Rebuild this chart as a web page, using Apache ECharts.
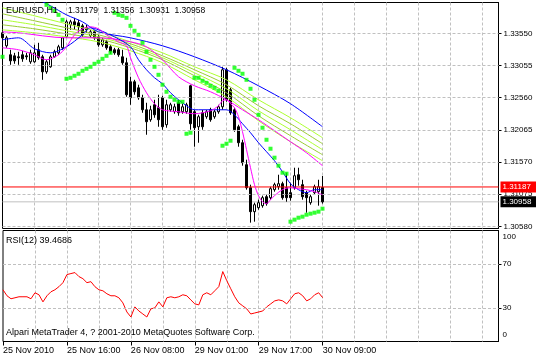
<!DOCTYPE html>
<html><head><meta charset="utf-8">
<script src="https://cdn.jsdelivr.net/npm/echarts@6/dist/echarts.min.js"></script>
<style>html,body{margin:0;padding:0;background:#fff;}#c{width:536px;height:359px;}</style>
</head><body><div id="c"></div>
<script>
// ---------------- data ----------------
const symbolName = 'EURUSD,H1';
const timeLabels = ['25 Nov 2010', '25 Nov 16:00', '26 Nov 08:00', '29 Nov 01:00', '29 Nov 17:00', '30 Nov 09:00'];
const timeLabelIdx = [0, 16, 32, 48, 64, 80];

const open = [1.33558,1.33358,1.33220,1.33204,1.33189,1.33220,1.33204,1.33112,1.33112,1.33297,
1.33189,1.32958,1.33035,1.33189,1.33250,1.33327,1.33496,1.33681,1.33727,1.33711,
1.33665,1.33635,1.33512,1.33573,1.33496,1.33373,1.33419,1.33343,1.33297,1.33297,
1.33189,1.33097,1.32805,1.32805,1.32712,1.32559,1.32374,1.32221,1.32451,1.32405,
1.32559,1.32144,1.32374,1.32344,1.32482,1.32344,1.32344,1.32743,1.32344,1.32113,
1.32328,1.32267,1.32374,1.32267,1.32344,1.32420,1.32989,1.32682,1.32374,1.32113,
1.31867,1.31529,1.31175,1.30807,1.30868,1.30899,1.31037,1.31022,1.31145,1.31191,
1.31237,1.31175,1.31099,1.31175,1.31375,1.31222,1.31099,1.30945,1.31099,1.31114,
1.31179];
const close = [1.33481,1.33481,1.33127,1.33127,1.33174,1.33158,1.33189,1.33250,1.33250,1.33174,
1.32958,1.33112,1.33189,1.33266,1.33343,1.33481,1.33727,1.33727,1.33681,1.33650,
1.33527,1.33604,1.33573,1.33481,1.33373,1.33450,1.33327,1.33266,1.33250,1.33220,
1.33097,1.32605,1.32559,1.32651,1.32559,1.32374,1.32190,1.32374,1.32297,1.32221,
1.32113,1.32451,1.32451,1.32420,1.32328,1.32420,1.32451,1.32159,1.32098,1.32267,
1.32113,1.32344,1.32221,1.32344,1.32420,1.32989,1.32528,1.32328,1.32067,1.31867,
1.31560,1.31175,1.30807,1.30914,1.30945,1.31022,1.30930,1.31160,1.31222,1.31237,
1.31022,1.31022,1.31022,1.31360,1.31298,1.31037,1.31022,1.31037,1.31191,1.31191,
1.30958];
const low = [1.33343,1.33327,1.33066,1.33081,1.33066,1.33112,1.33143,1.33081,1.33097,1.33143,
1.32835,1.32928,1.33020,1.33174,1.33220,1.33297,1.33481,1.33604,1.33604,1.33558,
1.33496,1.33558,1.33481,1.33450,1.33343,1.33343,1.33297,1.33235,1.33220,1.33189,
1.33066,1.32574,1.32451,1.32605,1.32528,1.32328,1.31990,1.32190,1.32251,1.32113,
1.32067,1.32098,1.32344,1.32313,1.32282,1.32313,1.32313,1.32067,1.31806,1.31867,
1.32067,1.32236,1.32190,1.32236,1.32313,1.32374,1.32497,1.32297,1.32036,1.31806,
1.31514,1.31145,1.30638,1.30653,1.30837,1.30868,1.30899,1.30991,1.31114,1.31145,
1.30991,1.30960,1.30976,1.31145,1.31206,1.30991,1.30791,1.30914,1.31068,1.30899,
1.30931];
const high = [1.33589,1.33512,1.33297,1.33250,1.33266,1.33281,1.33250,1.33297,1.33373,1.33404,
1.33220,1.33143,1.33220,1.33297,1.33373,1.33496,1.33758,1.33758,1.33788,1.33758,
1.33696,1.33681,1.33604,1.33604,1.33527,1.33481,1.33450,1.33373,1.33327,1.33327,
1.33297,1.33174,1.32882,1.32835,1.32759,1.32605,1.32482,1.32436,1.32528,1.32605,
1.32590,1.32528,1.32482,1.32467,1.32528,1.32467,1.32482,1.32759,1.32374,1.32297,
1.32374,1.32374,1.32405,1.32374,1.32451,1.33035,1.33020,1.32712,1.32405,1.32144,
1.31913,1.31606,1.31222,1.30945,1.30991,1.31053,1.31068,1.31191,1.31252,1.31375,
1.31268,1.31406,1.31252,1.31483,1.31483,1.31298,1.31129,1.31068,1.31222,1.31298,
1.31356];

const priceTicks = [1.30580, 1.31075, 1.31570, 1.32065, 1.32560, 1.33055, 1.33550];
const priceMin = 1.30548;
const priceMax = 1.34024;
const redLevel = 1.31187;
const bidLevel = 1.30958;

// indicator lines: [bar index, price]
const maMagentaFast = [[0,1.33327],[4,1.33297],[8,1.33220],[11,1.33143],[14,1.33220],[16,1.33343],[18,1.33527],[20,1.33619],[22,1.33650],[24,1.33619],[26,1.33527],[29,1.33419],[31,1.33358],[32,1.33174],[34,1.32866],[36,1.32636],[38,1.32467],[40,1.32374],[44,1.32344],[48,1.32313],[52,1.32359],[54,1.32436],[55,1.32513],[56,1.32528],[57,1.32467],[58,1.32405],[59,1.32267],[60,1.32036],[61,1.31760],[62,1.31483],[63,1.31222],[64,1.31053],[65,1.30960],[66,1.30930],[67,1.30991],[68,1.31053],[70,1.31145],[72,1.31175],[74,1.31160],[76,1.31145],[78,1.31114],[80,1.31068]];
const maMagentaSlow = [[0,1.33573],[4,1.33558],[16,1.33481],[24,1.33481],[32,1.33419],[36,1.33343],[40,1.33143],[44,1.32882],[48,1.32743],[52,1.32651],[56,1.32528],[60,1.32374],[64,1.32221],[68,1.32052],[72,1.31882],[76,1.31713],[80,1.31514]];
const maBlueFast = [[0,1.33450],[4,1.33481],[8,1.33312],[12,1.33250],[16,1.33343],[20,1.33527],[22,1.33635],[24,1.33604],[28,1.33496],[32,1.33343],[34,1.33143],[36,1.32989],[38,1.32866],[40,1.32774],[42,1.32636],[44,1.32528],[46,1.32436],[48,1.32374],[52,1.32374],[56,1.32374],[58,1.32297],[60,1.32159],[62,1.32021],[64,1.31867],[66,1.31729],[68,1.31590],[70,1.31421],[72,1.31237],[74,1.31145],[76,1.31099],[78,1.31145],[80,1.31145]];
const maBlueSlow = [[0,1.34296],[8,1.34096],[12,1.33973],[16,1.33834],[20,1.33727],[24,1.33573],[32,1.33481],[40,1.33358],[48,1.33189],[56,1.32989],[64,1.32743],[72,1.32467],[80,1.32113]];

const ribbonIdx = [0, 8, 16, 24, 32, 40, 48, 56, 64, 72, 80];
const ribbon1 = [1.33942,1.33819,1.33696,1.33573,1.33419,1.33250,1.33035,1.32835,1.32528,1.32251,1.31944];
const ribbon2 = [1.33850,1.33742,1.33635,1.33527,1.33389,1.33204,1.32989,1.32759,1.32436,1.32159,1.31852];
const ribbon3 = [1.33758,1.33681,1.33589,1.33496,1.33358,1.33174,1.32943,1.32697,1.32359,1.32067,1.31760];
const ribbon4 = [1.33681,1.33619,1.33542,1.33466,1.33327,1.33143,1.32897,1.32636,1.32282,1.31975,1.31683];
const ribbon5 = [1.33604,1.33558,1.33496,1.33419,1.33281,1.33097,1.32835,1.32574,1.32205,1.31882,1.31590];

const parabolicSar = [[0,1.33189],
[11,1.33988],[12,1.33942],[13,1.33896],[14,1.33834],[15,1.33758],
[16,1.32851],[17,1.32866],[18,1.32897],[19,1.32928],[20,1.32974],[21,1.33004],[22,1.33035],[23,1.33081],[24,1.33112],[25,1.33158],[26,1.33204],[27,1.33250],
[28,1.33865],[29,1.33834],[30,1.33819],[31,1.33788],[32,1.33665],[33,1.33589],[34,1.33527],[35,1.33404],[36,1.33266],[37,1.33143],[38,1.33035],[39,1.32912],[40,1.32759],[41,1.32651],[42,1.32574],[43,1.32528],[44,1.32497],[45,1.32497],
[46,1.32005],[47,1.32021],
[48,1.32866],[49,1.32866],[50,1.32820],[51,1.32789],[52,1.32743],[53,1.32712],[54,1.32666],
[55,1.31821],[56,1.31852],[57,1.31898],
[58,1.33020],[59,1.32974],[60,1.32928],[61,1.32835],[62,1.32697],[63,1.32528],[64,1.32297],[65,1.32098],[66,1.31913],[67,1.31775],[68,1.31637],[69,1.31514],[70,1.31406],[71,1.31391],
[72,1.30653],[73,1.30684],[74,1.30714],[75,1.30730],[76,1.30760],[77,1.30776],[78,1.30791],[79,1.30807],[80,1.30853]];

const rsiPeriod = 12;
const rsi = [46.6,41.2,38.5,39.4,40.3,40.3,40.3,38.5,43.9,42.1,
35.7,41.2,44.8,46.6,49.4,53.0,60.3,61.2,62.1,58.5,
56.6,53.0,53.9,49.4,46.6,45.7,43.0,41.2,41.2,39.4,
34.8,26.6,22.1,31.2,27.5,24.8,22.1,29.4,30.3,35.7,
31.2,39.4,40.3,39.4,40.3,42.1,41.2,37.5,33.9,33.0,
42.1,43.9,42.1,45.7,49.4,63.0,54.8,47.5,40.3,34.8,
32.1,29.4,24.8,25.7,26.6,27.5,31.2,33.9,36.6,37.5,
36.6,33.9,38.5,43.0,43.9,41.2,36.6,38.5,42.1,43.9,
39.4686];
const rsiTicks = [0, 30, 70, 100];
const rsiLevels = [30, 70];
const footerText = 'Alpari MetaTrader 4, ? 2001-2010 MetaQuotes Software Corp.';

// ---------------- chart ----------------
const FONT = '"Liberation Sans", Arial, sans-serif';
const nCats = 125;
const cats = Array.from({length: nCats}, (_, i) => 'b' + i);
const labelAt = {};
timeLabelIdx.forEach((k, j) => { labelAt[k] = timeLabels[j]; });
const hasLabel = (i) => labelAt[i] !== undefined;
const gridLine = {color: '#c0c0c0', type: [3, 2], width: 1};
const vGrid = {show: true, interval: (i) => i > 0 && i % 8 === 0, lineStyle: gridLine};

const last = open.length - 1;
const fmt = (v) => Number(v).toFixed(5);

function lineS(data, color) {
  return {type: 'line', xAxisIndex: 0, yAxisIndex: 0, data: data, showSymbol: false, smooth: 0.3,
    lineStyle: {color: color, width: 1}, itemStyle: {color: color}, clip: true, z: 3, silent: true};
}
const ribbonColors = ['#adff2f', '#9acd32', '#adff2f', '#9acd32', '#adff2f'];
const ribbons = [ribbon1, ribbon2, ribbon3, ribbon4, ribbon5].map((r, k) =>
  lineS(ribbonIdx.map((ix, j) => [ix, r[j]]), ribbonColors[k]));

// horizontal level line across the whole chart, with a price box at the right end
function levelLine(level, lineColor, bg, z) {
  return {type: 'line', xAxisIndex: 0, yAxisIndex: 0, z: z, silent: true,
    data: [[0, level], [nCats - 1, level]], showSymbol: false, symbol: 'none',
    lineStyle: {color: lineColor, width: 1, type: 'solid'}, itemStyle: {color: lineColor},
    emphasis: {disabled: true},
    endLabel: {show: true, distance: 2, formatter: () => fmt(level), color: '#fff',
      backgroundColor: bg, padding: [1, 8, 1, 2], fontSize: 8, lineHeight: 9, fontFamily: FONT}};
}

const chart = echarts.init(document.getElementById('c'), null, {renderer: 'canvas'});
chart.setOption({
  animation: false,
  backgroundColor: '#fff',
  grid: [
    {left: 2.5, top: 2.5, width: 496, height: 226, show: true, borderColor: '#000', borderWidth: 1},
    {left: 2.5, top: 230.5, width: 496, height: 111, show: true, borderColor: '#000', borderWidth: 1}
  ],
  xAxis: [
    {type: 'category', gridIndex: 0, data: cats, boundaryGap: false,
      axisLine: {show: false}, axisTick: {show: false}, axisLabel: {show: false}, splitLine: vGrid},
    {type: 'category', gridIndex: 1, data: cats, boundaryGap: false,
      axisLine: {show: false},
      axisTick: {show: true, interval: (i) => hasLabel(i), length: 4, lineStyle: {color: '#000'}},
      axisLabel: {show: true, interval: (i) => hasLabel(i), formatter: (v, i) => labelAt[i] || '',
        align: 'left', margin: 5, fontSize: 9, color: '#000', fontFamily: FONT},
      splitLine: vGrid}
  ],
  yAxis: [
    {type: 'value', gridIndex: 0, position: 'right', min: priceMin, max: priceMax,
      axisLine: {show: true, lineStyle: {color: '#000'}},
      axisTick: {show: true, customValues: priceTicks, length: 3, lineStyle: {color: '#000'}},
      axisLabel: {show: true, customValues: priceTicks, formatter: fmt, fontSize: 8, color: '#000', margin: 5, fontFamily: FONT},
      splitLine: {show: false}},
    {type: 'value', gridIndex: 1, position: 'right', min: 0, max: 100,
      axisLine: {show: true, lineStyle: {color: '#000'}},
      axisTick: {show: true, customValues: rsiLevels, length: 3, lineStyle: {color: '#000'}},
      axisLabel: {show: true, customValues: rsiTicks, margin: 4, fontSize: 8, color: '#000', fontFamily: FONT,
        formatter: (v) => v === 100 ? '{t|100}' : (v === 0 ? '{b|0}' : String(v)),
        rich: {t: {padding: [12, 0, 0, 0], fontSize: 8, fontFamily: FONT, color: '#000'},
               b: {padding: [0, 0, 13, 0], fontSize: 8, fontFamily: FONT, color: '#000'}}},
      splitLine: {show: false}}
  ],
  series: [
    {type: 'line', xAxisIndex: 0, yAxisIndex: 0, data: [], z: 1, silent: true,
      markLine: {silent: true, symbol: 'none', animation: false, precision: 5, label: {show: false}, lineStyle: gridLine,
        emphasis: {disabled: true}, data: priceTicks.map(v => ({yAxis: v}))}},
    {type: 'line', xAxisIndex: 1, yAxisIndex: 1, data: [], z: 1, silent: true,
      markLine: {silent: true, symbol: 'none', animation: false, precision: 2, label: {show: false}, lineStyle: gridLine,
        emphasis: {disabled: true}, data: rsiLevels.map(v => ({yAxis: v}))}},
    levelLine(bidLevel, '#c0c0c0', '#000', 1.5),
    ...ribbons,
    lineS(maBlueSlow, '#0000ff'),
    lineS(maMagentaSlow, '#ff00ff'),
    {type: 'candlestick', xAxisIndex: 0, yAxisIndex: 0, z: 2, silent: true, barWidth: 2,
      data: open.map((o, i) => [o, close[i], low[i], high[i]]),
      itemStyle: {color: '#fff', color0: '#000', borderColor: '#000', borderColor0: '#000', borderWidth: 1}},
    levelLine(redLevel, '#ff0000', '#ff0000', 3.5),
    Object.assign(lineS(maBlueFast, '#0000ff'), {z: 4}),
    Object.assign(lineS(maMagentaFast, '#ff00ff'), {z: 4}),
    {type: 'scatter', xAxisIndex: 0, yAxisIndex: 0, data: parabolicSar, symbol: 'rect', symbolSize: 4,
      itemStyle: {color: '#00ff00'}, z: 5, silent: true},
    {type: 'line', xAxisIndex: 1, yAxisIndex: 1, data: rsi, showSymbol: false, silent: true, z: 3,
      lineStyle: {color: '#ff0000', width: 1}, itemStyle: {color: '#ff0000'}}
  ],
  graphic: [
    {type: 'text', x: 6, y: 11, z: 100, silent: true, style: {
      text: '{a|' + symbolName + '}{n|' + fmt(open[last]) + '}{n|' + fmt(high[last]) + '}{n|' + fmt(low[last]) + '}{m|' + fmt(close[last]) + '}',
      verticalAlign: 'middle', fill: '#000', fontFamily: FONT, fontSize: 9,
      rich: {a: {width: 62, fontSize: 9, fontFamily: FONT, fill: '#000'},
             n: {width: 35.5, fontSize: 8.5, fontFamily: FONT, fill: '#000'},
             m: {fontSize: 8.5, fontFamily: FONT, fill: '#000'}}}},
    {type: 'text', x: 6, y: 241, z: 100, silent: true, style: {
      text: 'RSI(' + rsiPeriod + ') ' + rsi[rsi.length - 1].toFixed(4),
      verticalAlign: 'middle', fill: '#000', fontFamily: FONT, fontSize: 9}},
    {type: 'text', x: 6, y: 333, z: 100, silent: true, style: {
      text: footerText, verticalAlign: 'middle', fill: '#000', fontFamily: FONT, fontSize: 9}}
  ]
});
</script>
</body></html>
